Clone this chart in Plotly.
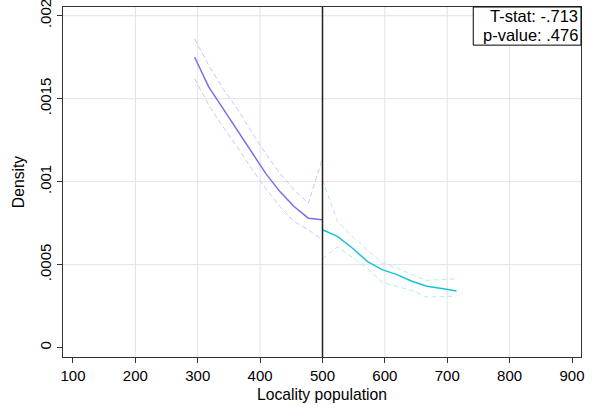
import plotly.graph_objects as go

# Left of cutoff
x_left = [295, 317.8, 340.6, 363.3, 386.1, 408.9, 431.7, 454.4, 477.2, 500]
dens_left = [0.00175, 0.00157, 0.00144, 0.00131, 0.00118, 0.00105, 0.00094, 0.00085, 0.00078, 0.00077]
hi_left = [0.00186, 0.00170, 0.00156, 0.00144, 0.00130, 0.00117, 0.00105, 0.00095, 0.00087, 0.00114]
lo_left = [0.00162, 0.00146, 0.00133, 0.00121, 0.00108, 0.00096, 0.00085, 0.00076, 0.00071, 0.00065]

# Right of cutoff
x_right = [500, 523.9, 547.8, 571.7, 595.6, 619.4, 643.3, 667.2, 691.1, 715]
dens_right = [0.00071, 0.00067, 0.00060, 0.00052, 0.00047, 0.00044, 0.00040, 0.00037, 0.000356, 0.000341]
hi_right = [0.00101, 0.00076, 0.00067, 0.00059, 0.00051, 0.00048, 0.00044, 0.000405, 0.00041, 0.000415]
lo_right = [0.000535, 0.000606, 0.000544, 0.000477, 0.000393, 0.000369, 0.000344, 0.000304, 0.000308, 0.00031]

cutoff = 500
x_ticks = [100, 200, 300, 400, 500, 600, 700, 800, 900]
y_ticks = [0, 0.0005, 0.001, 0.0015, 0.002]
y_ticklabels = ["0", ".0005", ".001", ".0015", ".002"]
x_grid = [200, 300, 400, 500, 600, 700, 800]
y_grid = [0.0005, 0.001, 0.0015, 0.002]
stat_lines = ["T-stat: -.713", "p-value: .476"]

FONT = "Liberation Sans, Arial, Helvetica, sans-serif"
FS = 15.7
TFS = 15
c_left = "#7B6CF0"
c_left_ci = "#CBC6FA"
c_right = "#14C3D6"
c_right_ci = "#B5ECF3"

fig = go.Figure()

for gx in x_grid:
    fig.add_shape(type="line", xref="x", yref="paper", x0=gx, x1=gx, y0=0, y1=1,
                  line=dict(color="#E3E3E3", width=1), layer="below")
for gy in y_grid:
    fig.add_shape(type="line", xref="paper", yref="y", x0=0, x1=1, y0=gy, y1=gy,
                  line=dict(color="#E3E3E3", width=1), layer="below")

fig.add_trace(go.Scatter(x=x_left, y=hi_left, mode="lines",
                         line=dict(color=c_left_ci, width=1, dash="5px,3px")))
fig.add_trace(go.Scatter(x=x_left, y=lo_left, mode="lines",
                         line=dict(color=c_left_ci, width=1, dash="5px,3px")))
fig.add_trace(go.Scatter(x=x_right, y=hi_right, mode="lines",
                         line=dict(color=c_right_ci, width=1, dash="5px,3px")))
fig.add_trace(go.Scatter(x=x_right, y=lo_right, mode="lines",
                         line=dict(color=c_right_ci, width=1, dash="5px,3px")))
fig.add_trace(go.Scatter(x=x_left, y=dens_left, mode="lines",
                         line=dict(color=c_left, width=1.5)))
fig.add_trace(go.Scatter(x=x_right, y=dens_right, mode="lines",
                         line=dict(color=c_right, width=1.5)))

fig.add_shape(type="line", xref="x", yref="paper", x0=cutoff, x1=cutoff, y0=0, y1=1,
              line=dict(color="#222222", width=1.5))

# stats box
fig.add_shape(type="rect", xref="paper", yref="paper", x0=0.792, x1=1, y0=0.891, y1=1,
              line=dict(color="black", width=1), fillcolor="white", layer="above")
fig.add_annotation(xref="paper", yref="paper", x=0.997, y=0.973, xanchor="right", yanchor="middle",
                   text=stat_lines[0], showarrow=False, borderpad=0,
                   font=dict(family=FONT, size=16.5, color="black"))
fig.add_annotation(xref="paper", yref="paper", x=0.997, y=0.919, xanchor="right", yanchor="middle",
                   text=stat_lines[1], showarrow=False, borderpad=0,
                   font=dict(family=FONT, size=16.5, color="black"))

fig.update_layout(
    width=597, height=417,
    margin=dict(l=63, r=16, t=7, b=60, autoexpand=False),
    paper_bgcolor="white", plot_bgcolor="white",
    showlegend=False,
    font=dict(family=FONT, size=FS, color="black"),
    xaxis=dict(range=[84, 914.4], tickvals=x_ticks, ticks="outside", ticklen=5,
               tickcolor="#333", showgrid=False, zeroline=False, automargin=False,
               showline=True, mirror=True, linecolor="#333", linewidth=1,
               ticklabeloverflow="allow",
               title=dict(text="Locality population", font=dict(size=FS), standoff=6),
               tickfont=dict(size=TFS)),
    yaxis=dict(range=[-0.0000567, 0.0020525], tickvals=y_ticks, ticktext=y_ticklabels,
               tickangle=-90, ticks="outside", ticklen=5, tickcolor="#333",
               showgrid=False, zeroline=False, automargin=False,
               showline=True, mirror=True, linecolor="#333", linewidth=1,
               ticklabeloverflow="allow",
               title=dict(text="Density", font=dict(size=FS), standoff=8),
               tickfont=dict(size=TFS)),
)

fig.write_html("out.html", config={"displayModeBar": False},
               post_script="document.body.style.margin='0';document.body.style.overflow='hidden';")
